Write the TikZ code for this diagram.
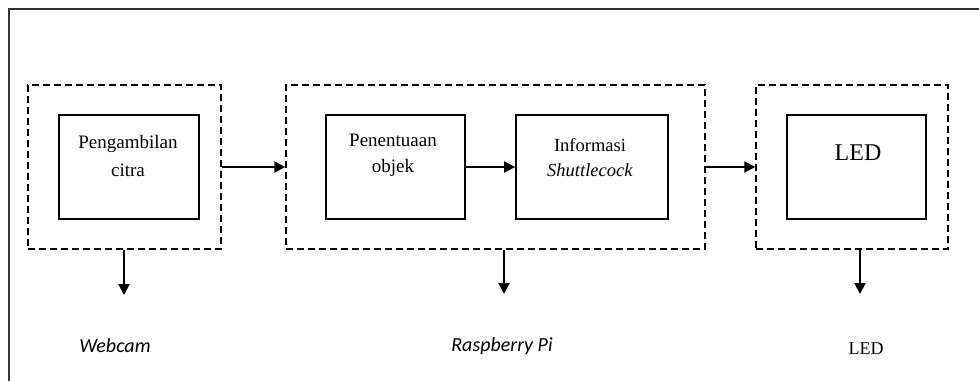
\documentclass[tikz,border=0pt]{standalone}
\usepackage{fontspec}
\setmainfont{Liberation Serif}
\newfontfamily\labelfont{Carlito}
\usetikzlibrary{arrows.meta,positioning}

\begin{document}
\begin{tikzpicture}[x=1pt, y=-1pt, line width=1.8pt]
    \tikzstyle{group} = [rectangle, draw, dashed, dash pattern=on 7pt off 4pt, line width=1.5pt, inner sep=0pt]
    \tikzstyle{block} = [rectangle, draw, line width=1.8pt, inner sep=0pt, minimum height=104pt]
    \tikzstyle{blocktext} = [align=center, inner sep=0pt]
    \tikzstyle{device} = [font=\labelfont\itshape\fontsize{20}{24}\selectfont, inner sep=0pt]
    \tikzstyle{arrow} = [line width=2pt, -{Triangle[length=11pt, width=11pt]}]

    \useasboundingbox (0,0) rectangle (979,380);

    % Frame
    \draw[line width=2pt, black!80] (9,400) -- (9,9) -- (990,9);

    % Groups
    \node [group, minimum width=193pt, minimum height=164pt] (webcambox) at (124.5,167) {};
    \node [group, minimum width=419pt, minimum height=164pt] (raspibox) at (495.5,167) {};
    \node [group, minimum width=192pt, minimum height=164pt] (ledbox) at (852,167) {};

    % Blocks
    \node [block, minimum width=140pt] (capture) at (129,167) {};
    \node [block, minimum width=139pt] (detect) at (395.5,167) {};
    \node [block, minimum width=152pt] (info) at (592,167) {};
    \node [block, minimum width=139pt] (led) at (856.5,167) {};

    \node [blocktext, font=\fontsize{19}{28}\selectfont] (capturetext) at (128,156) {Pengambilan\\citra};
    \node [blocktext, font=\fontsize{19}{26}\selectfont] (detecttext) at (393,155) {Penentuaan\\objek};
    \node [blocktext, font=\fontsize{18.5}{25}\selectfont] (infotext) at (590,158) {Informasi\\\textit{Shuttlecock}};
    \node [blocktext, font=\fontsize{24}{28}\selectfont] (ledtext) at (858,153) {LED};

    % Devices
    \node [device] (webcam) at (115,346) {Webcam};
    \node [device] (raspi) at (502,346) {Raspberry Pi};
    \node [blocktext, font=\fontsize{18}{22}\selectfont] (ledlabel) at (866,349) {LED};

    \coordinate (webcamtip) at (124,295);
    \coordinate (raspitip) at (504,294);
    \coordinate (ledtip) at (860,294);

    % Connections
    \draw [arrow] (webcambox) -- (raspibox);
    \draw [arrow] (detect) -- (info);
    \draw [arrow] (raspibox) -- (ledbox);

    \draw [arrow] (webcambox.south -| webcamtip) -- (webcamtip);
    \draw [arrow] (raspibox.south -| raspitip) -- (raspitip);
    \draw [arrow] (ledbox.south -| ledtip) -- (ledtip);
\end{tikzpicture}
\end{document}
